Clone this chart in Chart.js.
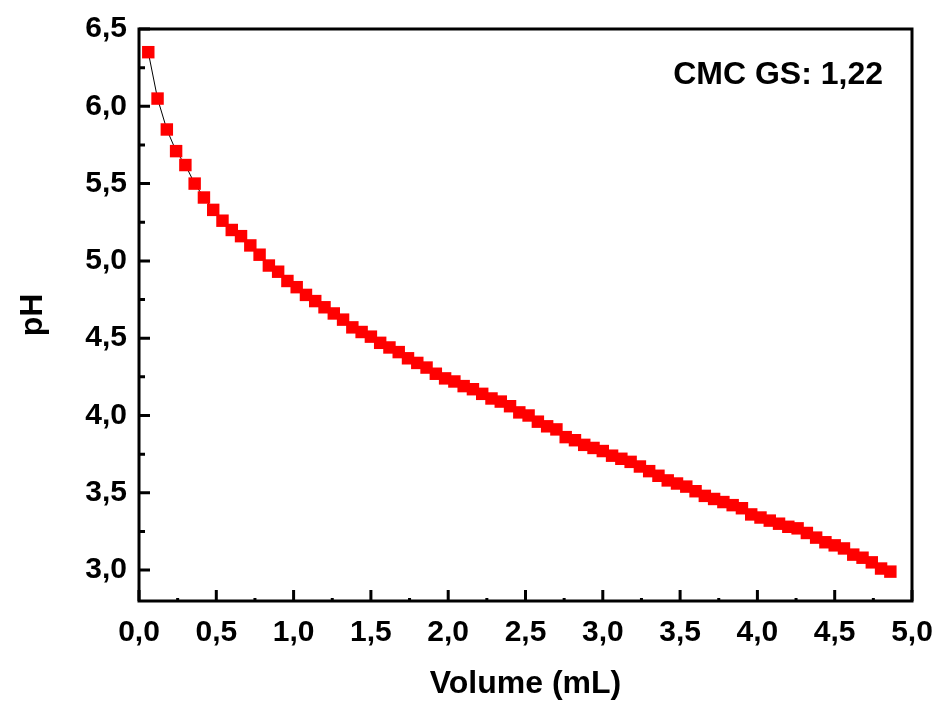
<!DOCTYPE html>
<html lang="en">
<head>
  <meta charset="UTF-8">
  <title>pH vs Volume</title>
  <script src="https://cdn.jsdelivr.net/npm/chart.js"></script>
  <style>
    body {
      margin: 0;
      background: #fff;
    }
    #wrap {
      width: 941px;
      height: 703px;
    }
  </style>
</head>
<body>
  <div id="wrap">
    <canvas id="phChart"></canvas>
  </div>

  <script>
    // titration data: added volume (mL) and measured pH
    const volume = [
      0.06, 0.12, 0.18, 0.24, 0.30, 0.36, 0.42, 0.48, 0.54, 0.60,
      0.66, 0.72, 0.78, 0.84, 0.90, 0.96, 1.02, 1.08, 1.14, 1.20,
      1.26, 1.32, 1.38, 1.44, 1.50, 1.56, 1.62, 1.68, 1.74, 1.80,
      1.86, 1.92, 1.98, 2.04, 2.10, 2.16, 2.22, 2.28, 2.34, 2.40,
      2.46, 2.52, 2.58, 2.64, 2.70, 2.76, 2.82, 2.88, 2.94, 3.00,
      3.06, 3.12, 3.18, 3.24, 3.30, 3.36, 3.42, 3.48, 3.54, 3.60,
      3.66, 3.72, 3.78, 3.84, 3.90, 3.96, 4.02, 4.08, 4.14, 4.20,
      4.26, 4.32, 4.38, 4.44, 4.50, 4.56, 4.62, 4.68, 4.74, 4.80,
      4.86
    ];
    const ph = [
      6.35, 6.05, 5.85, 5.71, 5.62, 5.50, 5.41, 5.33, 5.26, 5.20,
      5.16, 5.10, 5.04, 4.97, 4.93, 4.87, 4.83, 4.78, 4.74, 4.70,
      4.66, 4.62, 4.57, 4.54, 4.51, 4.47, 4.44, 4.41, 4.37, 4.34,
      4.31, 4.27, 4.24, 4.22, 4.19, 4.17, 4.14, 4.11, 4.09, 4.06,
      4.02, 4.00, 3.96, 3.93, 3.91, 3.86, 3.84, 3.81, 3.79, 3.77,
      3.74, 3.72, 3.70, 3.67, 3.64, 3.61, 3.58, 3.56, 3.54, 3.51,
      3.48, 3.46, 3.44, 3.42, 3.40, 3.36, 3.34, 3.32, 3.30, 3.28,
      3.27, 3.24, 3.21, 3.18, 3.16, 3.14, 3.10, 3.08, 3.05, 3.01,
      2.99
    ];
    const xTicks = [0, 0.5, 1, 1.5, 2, 2.5, 3, 3.5, 4, 4.5, 5];
    const yTicks = [3, 3.5, 4, 4.5, 5, 5.5, 6, 6.5];
    const xMinor = [0.25, 0.75, 1.25, 1.75, 2.25, 2.75, 3.25, 3.75, 4.25, 4.75];
    const yMinor = [3.25, 3.75, 4.25, 4.75, 5.25, 5.75, 6.25];
    const note = 'CMC GS: 1,22';

    const FONT = '"Liberation Sans", Arial, sans-serif';
    Chart.defaults.font.family = FONT;
    Chart.defaults.color = '#000';

    const comma = v => Number(v).toFixed(1).replace('.', ',');

    // box frame, inward ticks and the corner note
    const framePlugin = {
      id: 'frame',
      afterDatasetsDraw(chart) {
        const { ctx, chartArea: a, scales: { x, y } } = chart;
        ctx.save();
        ctx.strokeStyle = '#000';
        ctx.lineWidth = 3;
        ctx.lineCap = 'butt';

        ctx.beginPath();
        xTicks.forEach(v => {
          const px = x.getPixelForValue(v);
          ctx.moveTo(px, a.bottom);
          ctx.lineTo(px, a.bottom - 11);
        });
        xMinor.forEach(v => {
          const px = x.getPixelForValue(v);
          ctx.moveTo(px, a.bottom);
          ctx.lineTo(px, a.bottom - 3);
        });
        yTicks.forEach(v => {
          const py = y.getPixelForValue(v);
          ctx.moveTo(a.left, py);
          ctx.lineTo(a.left + 11, py);
        });
        yMinor.forEach(v => {
          const py = y.getPixelForValue(v);
          ctx.moveTo(a.left, py);
          ctx.lineTo(a.left + 6, py);
        });
        ctx.stroke();

        ctx.strokeRect(a.left, a.top, a.right - a.left, a.bottom - a.top);

        ctx.fillStyle = '#000';
        ctx.font = 'bold 32px ' + FONT;
        ctx.textAlign = 'right';
        ctx.textBaseline = 'alphabetic';
        ctx.fillText(note, 883, 84);
        ctx.restore();
      }
    };

    new Chart(document.getElementById('phChart'), {
      type: 'line',
      data: {
        datasets: [{
          data: volume.map((v, i) => ({ x: v, y: ph[i] })),
          borderColor: '#000',
          borderWidth: 1,
          pointStyle: 'rect',
          pointRadius: 8.8,
          pointHoverRadius: 8.8,
          pointBackgroundColor: '#ff0000',
          pointBorderWidth: 0,
          tension: 0
        }]
      },
      options: {
        responsive: true,
        maintainAspectRatio: false,
        animation: false,
        layout: { padding: { top: 29, right: 29, left: 0, bottom: 0 } },
        plugins: {
          legend: { display: false },
          tooltip: { enabled: false }
        },
        scales: {
          x: {
            type: 'linear',
            min: 0,
            max: 5,
            afterBuildTicks: s => { s.ticks = xTicks.map(v => ({ value: v })); },
            afterFit: s => {
              s.height = 102;
              s.paddingLeft = 0;
              s.paddingRight = 0;
            },
            grid: { display: false, drawTicks: false },
            border: { display: false },
            ticks: {
              font: { size: 30, weight: 'bold' },
              padding: 14,
              maxRotation: 0,
              callback: v => comma(v)
            },
            title: {
              display: true,
              text: 'Volume (mL)',
              font: { size: 32, weight: 'bold' },
              padding: { top: 0, bottom: 0 }
            }
          },
          y: {
            type: 'linear',
            min: 2.8,
            max: 6.5,
            afterBuildTicks: s => { s.ticks = yTicks.map(v => ({ value: v })); },
            afterFit: s => {
              s.width = 139;
              s.paddingTop = 0;
              s.paddingBottom = 0;
            },
            grid: { display: false, drawTicks: false },
            border: { display: false },
            ticks: {
              font: { size: 30, weight: 'bold' },
              padding: 12,
              callback: v => comma(v)
            },
            title: {
              display: true,
              text: 'pH',
              font: { size: 32, weight: 'bold' },
              padding: { top: 14, bottom: 0 }
            }
          }
        }
      },
      plugins: [framePlugin]
    });
  </script>
</body>
</html>
